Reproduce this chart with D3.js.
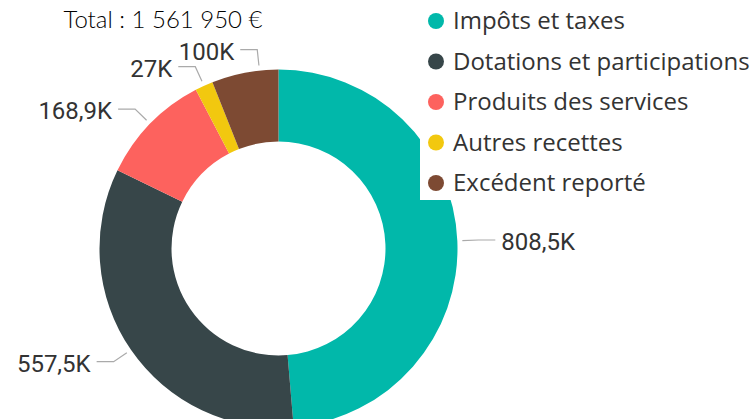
<!DOCTYPE html>
<html>
<head>
<meta charset="utf-8">
<script src="https://cdn.jsdelivr.net/npm/d3@7"></script>
<style>
  body { margin: 0; background: #fff; }
  svg { display: block; }
  .label { font-family: Roboto, sans-serif; font-size: 24px; fill: #333; }
  .legend text { font-family: "Open Sans", sans-serif; font-size: 24px; fill: #333; }
  .total { font-family: Lato, sans-serif; font-weight: 300; font-size: 24px; fill: #000; }
</style>
</head>
<body>
<svg></svg>
<script>
const width = 756;
const height = 419;

// data
const categories = ["Impôts et taxes", "Dotations et participations", "Produits des services", "Autres recettes", "Excédent reporté"];
const values = [808.5, 557.5, 168.9, 27, 100];
const valueLabels = ["808,5K", "557,5K", "168,9K", "27K", "100K"];
const colors = ["#01B8AA", "#374649", "#FD625E", "#F2C80F", "#7D4A33"];
const totalText = "Total : 1 561 950 €";

const svg = d3.select("svg")
  .attr("width", width)
  .attr("height", height);

const cx = 278.5;
const cy = 248.5;
const outerR = 179;
const innerR = 107;

const pie = d3.pie().sort(null).value(d => d.value);
const arc = d3.arc().innerRadius(innerR).outerRadius(outerR);

const rows = categories.map((c, i) => ({
  name: c,
  value: values[i],
  label: valueLabels[i],
  color: colors[i]
}));

const arcs = pie(rows);

const g = svg.append("g").attr("transform", `translate(${cx},${cy})`);

g.selectAll("path")
  .data(arcs)
  .join("path")
  .attr("d", arc)
  .attr("fill", d => d.data.color);

// LABELS

const polar = (r, a) => [r * Math.sin(a), -r * Math.cos(a)];
const elbowR = outerR + 21;

const labelData = arcs.map(d => {
  let a = (d.startAngle + d.endAngle) / 2;
  if (a > Math.PI) a -= 2 * Math.PI;
  return { d, a, side: Math.sin(a) >= 0 ? 1 : -1 };
});

// push crowded labels on the upper left upwards (towards 12 o'clock)
const left = labelData.filter(l => l.side < 0 && Math.cos(l.a) > 0)
  .sort((p, q) => p.a - q.a);
for (let i = 1; i < left.length; i++) {
  const prevY = polar(elbowR, left[i - 1].a)[1];
  const y = polar(elbowR, left[i].a)[1];
  if (y > prevY - 17) {
    const ny = prevY - 17;
    left[i].a = -Math.acos(Math.min(1, -ny / elbowR));
  }
}

const labels = g.selectAll(".lbl")
  .data(labelData)
  .join("g")
  .attr("class", "lbl");

labels.append("polyline")
  .attr("fill", "none")
  .attr("stroke", "#aaa")
  .attr("stroke-width", 1.2)
  .attr("points", l => {
    const p0 = polar(outerR + 5, l.a);
    const p1 = polar(elbowR, l.a);
    const p2 = [p1[0] + l.side * 17, p1[1]];
    return [p0, p1, p2].map(p => p.join(",")).join(" ");
  });

labels.append("text")
  .attr("class", "label")
  .attr("x", l => polar(elbowR, l.a)[0] + l.side * 23)
  .attr("y", l => polar(elbowR, l.a)[1])
  .attr("dy", "0.42em")
  .attr("text-anchor", l => l.side > 0 ? "start" : "end")
  .text(l => l.d.data.label);

// LEGEND (white box over the ring)

svg.append("rect")
  .attr("x", 420)
  .attr("y", 0)
  .attr("width", width - 420)
  .attr("height", 200)
  .attr("fill", "#fff");

const legend = svg.append("g")
  .attr("class", "legend")
  .attr("transform", "translate(436, 21)");

const item = legend.selectAll(".legend-item")
  .data(rows)
  .join("g")
  .attr("transform", (d, i) => `translate(0, ${i * 40.5})`);

item.append("circle")
  .attr("r", 8)
  .attr("fill", d => d.color);

item.append("text")
  .attr("x", 17)
  .attr("dy", "0.35em")
  .text(d => d.name);

// TOTAL

svg.append("text")
  .attr("class", "total")
  .attr("x", 163)
  .attr("y", 20)
  .attr("dy", "0.35em")
  .attr("text-anchor", "middle")
  .text(totalText);
</script>
</body>
</html>
